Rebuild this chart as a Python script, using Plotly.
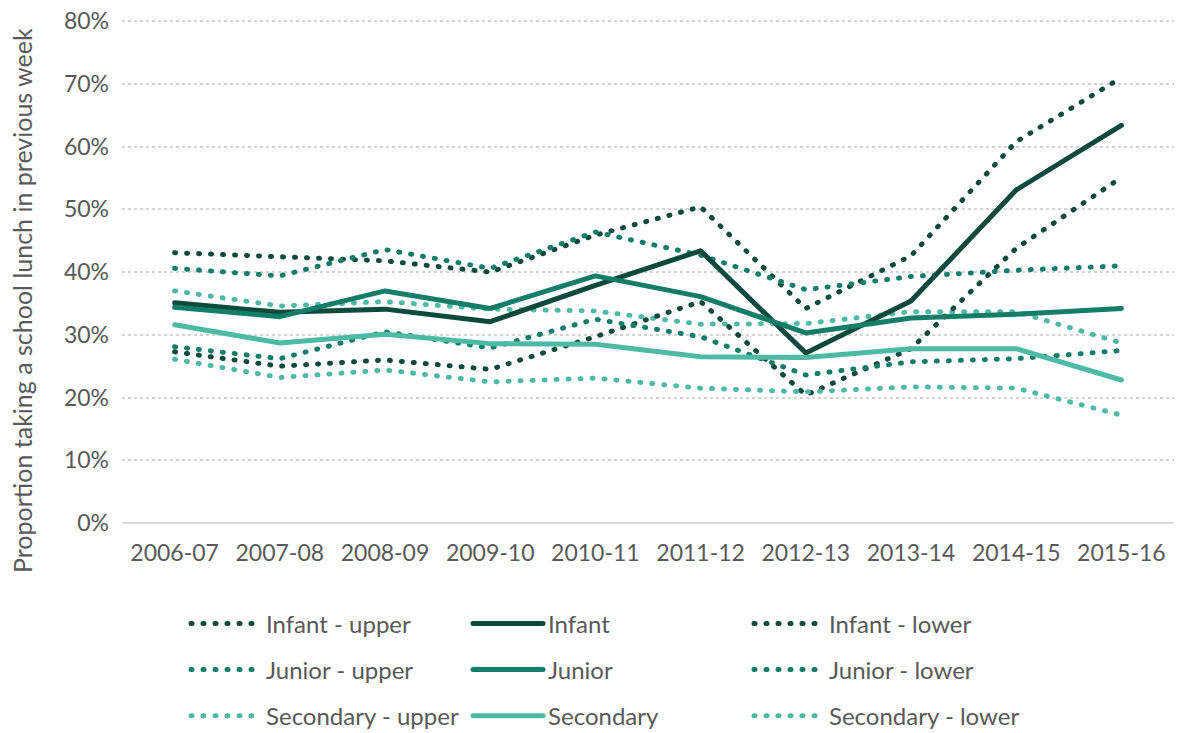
import plotly.graph_objects as go

years = ["2006-07", "2007-08", "2008-09", "2009-10", "2010-11",
         "2011-12", "2012-13", "2013-14", "2014-15", "2015-16"]

infant_upper = [43.1, 42.4, 41.8, 40.0, 45.9, 50.4, 34.2, 42.6, 60.8, 71.0]
infant = [35.1, 33.6, 34.1, 32.1, 37.9, 43.4, 27.1, 35.4, 53.1, 63.4]
infant_lower = [27.3, 25.0, 26.0, 24.5, 29.7, 35.3, 20.4, 27.8, 43.8, 55.1]

junior_upper = [40.6, 39.4, 43.6, 40.6, 46.4, 42.7, 37.2, 39.3, 40.3, 41.0]
junior = [34.4, 32.9, 37.0, 34.2, 39.4, 36.1, 30.3, 32.7, 33.3, 34.2]
junior_lower = [28.1, 26.2, 30.5, 27.9, 32.5, 29.7, 23.6, 25.7, 26.2, 27.5]

secondary_upper = [37.0, 34.6, 35.3, 34.1, 33.8, 31.7, 31.8, 33.7, 33.7, 28.7]
secondary = [31.6, 28.7, 30.1, 28.6, 28.5, 26.5, 26.4, 27.8, 27.8, 22.8]
secondary_lower = [26.1, 23.2, 24.4, 22.5, 23.1, 21.5, 20.9, 21.7, 21.5, 17.2]

y_tickvals = [0, 10, 20, 30, 40, 50, 60, 70, 80]
y_ticktext = ["0%", "10%", "20%", "30%", "40%", "50%", "60%", "70%", "80%"]

C_INF = "#0d4a3b"
C_JUN = "#137d69"
C_SEC = "#4ebaa4"
FONT = "Lato"
TXT = "#595959"

fig = go.Figure()

dotted = [
    ("Infant - upper", infant_upper, C_INF, "legend"),
    ("Junior - upper", junior_upper, C_JUN, "legend"),
    ("Secondary - upper", secondary_upper, C_SEC, "legend"),
    ("Infant - lower", infant_lower, C_INF, "legend3"),
    ("Junior - lower", junior_lower, C_JUN, "legend3"),
    ("Secondary - lower", secondary_lower, C_SEC, "legend3"),
]
solid = [
    ("Infant", infant, C_INF, "legend2"),
    ("Junior", junior, C_JUN, "legend2"),
    ("Secondary", secondary, C_SEC, "legend2"),
]

for name, vals, col, lg in dotted:
    fig.add_trace(go.Scatter(
        x=years, y=vals, name=name, mode="lines", legend=lg, legendgroup=name,
        line=dict(color=col, width=5, dash="1px,11px"),
    ))
for name, vals, col, lg in solid:
    fig.add_trace(go.Scatter(
        x=years, y=vals, name=name, mode="lines", legend=lg, legendgroup=name,
        line=dict(color=col, width=5),
    ))

leg_common = dict(
    orientation="v", yanchor="top", xanchor="left",
    yref="container", xref="container", y=0.1797,
    font=dict(family=FONT, size=24, color=TXT),
    tracegroupgap=12, traceorder="grouped", bgcolor="rgba(0,0,0,0)",
    itemwidth=70,
)

fig.update_layout(
    width=1184, height=733,
    paper_bgcolor="white", plot_bgcolor="white",
    margin=dict(l=122, r=10, t=20, b=210, autoexpand=False),
    font=dict(family=FONT, size=23, color=TXT),
    showlegend=True,
    legend=dict(x=0.1571, **leg_common),
    legend2=dict(x=0.3953, **leg_common),
    legend3=dict(x=0.6326, **leg_common),
    xaxis=dict(
        type="category", range=[-0.5, 9.5], showgrid=False, ticks="",
        showline=False, zeroline=False, automargin=False,
        ticklabelstandoff=14,
        tickfont=dict(family=FONT, size=23, color=TXT),
    ),
    yaxis=dict(
        range=[0, 80.2], tickmode="array",
        tickvals=y_tickvals, ticktext=y_ticktext,
        showgrid=True, ticklabeloverflow="allow",
        gridcolor="#d4d4d4", gridwidth=2, griddash="dot",
        zeroline=True, zerolinecolor="#d9d9d9", zerolinewidth=2,
        showline=False, ticks="", ticklabelstandoff=12, automargin=False,
        tickfont=dict(family=FONT, size=23, color=TXT),
    ),
    annotations=[dict(
        text="Proportion taking a school lunch in previous week",
        textangle=-90, xref="paper", yref="paper",
        x=-(122 - 22) / 1052, y=(523 - 301) / 503,
        xanchor="center", yanchor="middle", showarrow=False,
        font=dict(family=FONT, size=25, color=TXT),
    )],
)

fig.write_html(
    "out.html",
    config={"displayModeBar": False},
    post_script="var s=document.createElement('style');"
                "s.textContent='body{margin:0}"
                ".js-line{stroke-linecap:round;stroke-linejoin:round}';"
                "document.head.appendChild(s);",
)
